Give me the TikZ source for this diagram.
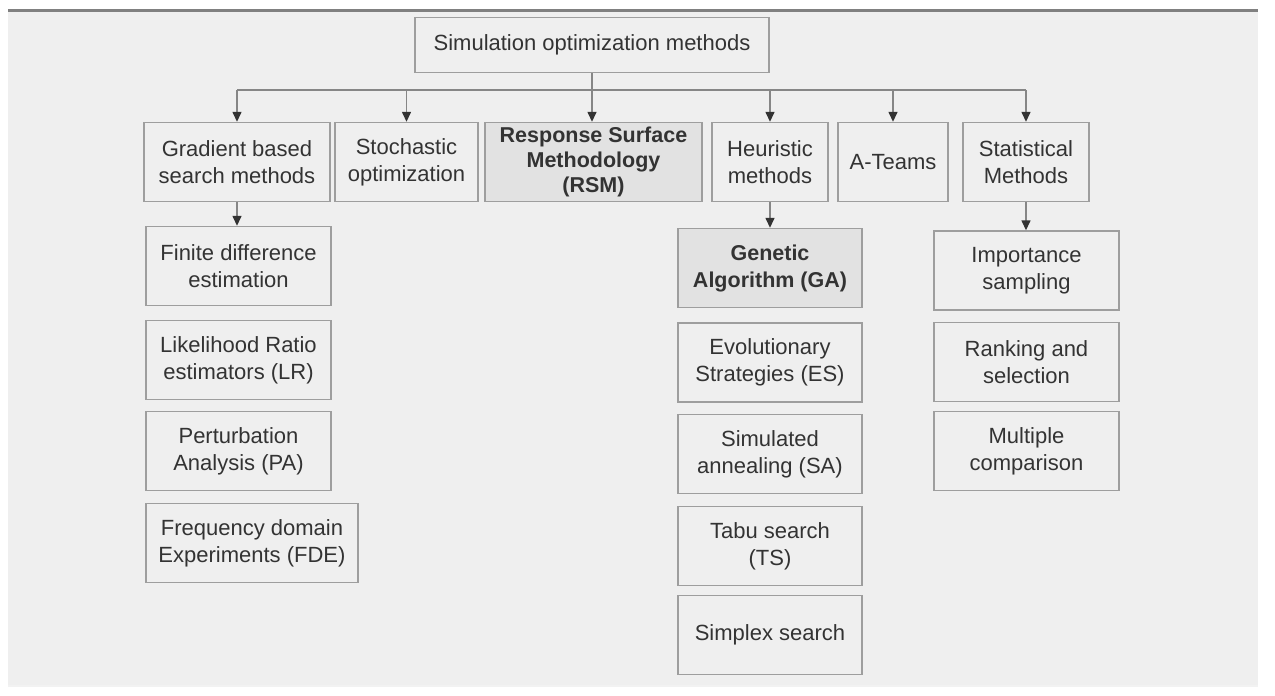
\documentclass[tikz,border=0pt]{standalone}
\usepackage{fontspec}
\setmainfont{Liberation Sans}
\usepackage{tikz}
\usetikzlibrary{arrows.meta}
\definecolor{paper}{HTML}{EFEFEF}
\definecolor{shade}{HTML}{E2E2E2}
\definecolor{boxline}{HTML}{9E9E9E}
\definecolor{ink}{HTML}{333333}

\begin{document}
\begin{tikzpicture}[x=1pt,y=-1pt,
	box/.style={rectangle,draw=boxline,line width=1.4pt,fill=paper,text=ink,align=center,
		minimum height=79pt,inner sep=0pt,font=\fontsize{22}{27}\selectfont},
	key/.style={box,fill=shade,font=\fontsize{21.5}{27}\selectfont\bfseries},
	link/.style={draw=boxline!85!black,line width=1.4pt},
	arr/.style={link,-{Triangle[width=9pt,length=10pt,color=ink]}},
	]
	\useasboundingbox (0,0) rectangle (1275,696);
	\fill[white] (0,0) rectangle (1275,696);
	\fill[paper] (8,10) rectangle (1258,686);
	\draw[gray,line width=3pt] (8,10) -- (1258,10);
	\draw[white!90!gray,line width=1.5pt] (8,686) -- (1258,686);

	\node[box,minimum width=354pt,minimum height=55pt] (root) at (592,45) {Simulation optimization methods};

	\node[box,minimum width=186pt] (grad) at (237,162) {Gradient based\\search methods};
	\node[box,minimum width=143pt] (stoch) at (406.5,162) {Stochastic\\optimization};
	\node[key,minimum width=217pt,font=\fontsize{21.5}{25}\selectfont\bfseries] (rsm) at (593.5,162) {Response Surface\\Methodology\\(RSM)};
	\node[box,minimum width=116pt] (heur) at (770,162) {Heuristic\\methods};
	\node[box,minimum width=110pt] (ateams) at (893,162) {A-Teams};
	\node[box,minimum width=126pt] (stat) at (1026,162) {Statistical\\Methods};

	\node[box,minimum width=185pt] (fd) at (238.5,266) {Finite difference\\estimation};
	\node[box,minimum width=185pt] (lr) at (238.5,360) {Likelihood Ratio\\estimators (LR)};
	\node[box,minimum width=185pt] (pa) at (238.5,451) {Perturbation\\Analysis (PA)};
	\node[box,minimum width=212pt] (fde) at (252,543) {Frequency domain\\Experiments (FDE)};

	\node[key,minimum width=184pt] (ga) at (770,268) {Genetic\\Algorithm (GA)};
	\node[box,minimum width=184pt] (es) at (770,362.5) {Evolutionary\\Strategies (ES)};
	\node[box,minimum width=184pt] (sa) at (770,454) {Simulated\\annealing (SA)};
	\node[box,minimum width=184pt] (ts) at (770,546) {Tabu search\\(TS)};
	\node[box,minimum width=184pt] (simplex) at (770,635) {Simplex search};

	\node[box,minimum width=185pt] (imp) at (1026.5,270.5) {Importance\\sampling};
	\node[box,minimum width=185pt] (rank) at (1026.5,362) {Ranking and\\selection};
	\node[box,minimum width=185pt] (mult) at (1026.5,451) {Multiple\\comparison};

	\coordinate (bus) at (592,90);
	\draw[arr] (root.south) -- (root.south |- rsm.north);
	\draw[link] (bus -| grad) -- (bus -| stat);
	\draw[arr] (bus -| grad) -- (grad.north);
	\draw[arr] (bus -| stoch) -- (stoch.north);
	\draw[arr] (bus -| heur) -- (heur.north);
	\draw[arr] (bus -| ateams) -- (ateams.north);
	\draw[arr] (bus -| stat) -- (stat.north);

	\draw[arr] (grad.south) -- (grad.south |- fd.north);
	\draw[arr] (heur.south) -- (heur.south |- ga.north);
	\draw[arr] (stat.south) -- (stat.south |- imp.north);
\end{tikzpicture}
\end{document}
